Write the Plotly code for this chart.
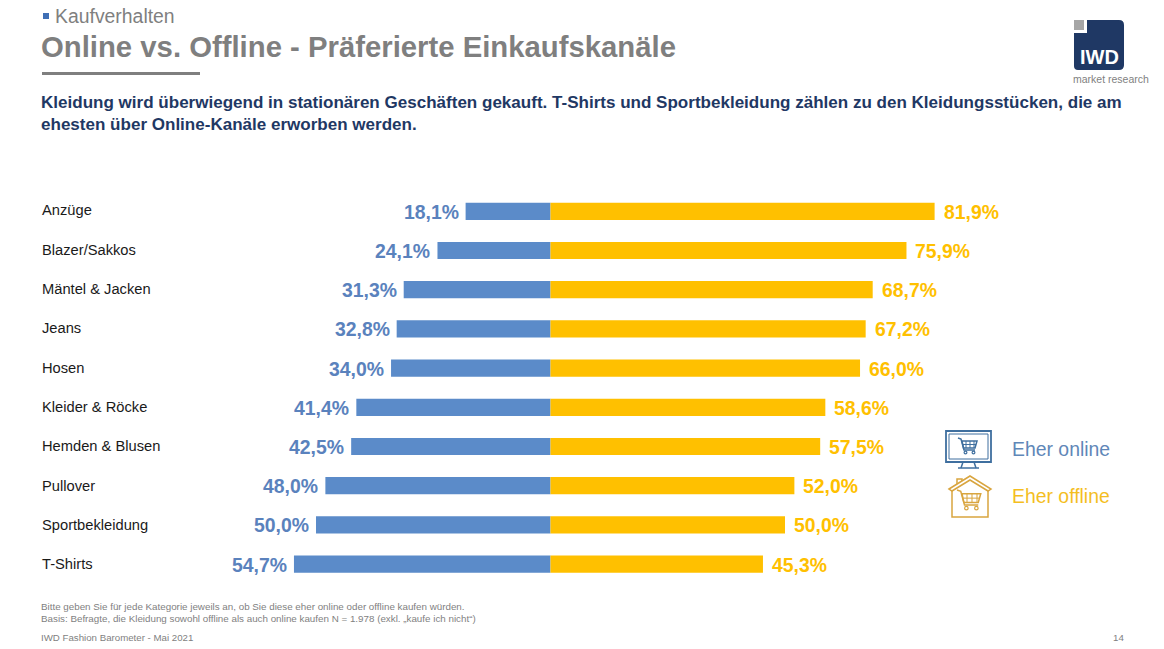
import plotly.graph_objects as go

W, H = 1164, 649

categories = ["Anzüge", "Blazer/Sakkos", "Mäntel & Jacken", "Jeans", "Hosen",
              "Kleider & Röcke", "Hemden & Blusen", "Pullover", "Sportbekleidung", "T-Shirts"]
online = [18.1, 24.1, 31.3, 32.8, 34.0, 41.4, 42.5, 48.0, 50.0, 54.7]
offline = [81.9, 75.9, 68.7, 67.2, 66.0, 58.6, 57.5, 52.0, 50.0, 45.3]

FONT = "Liberation Sans"
BLUE = "#5B8BC9"
BLUE_TEXT = "#5A82BD"
YELLOW = "#FFC000"
GREY = "#7F7F7F"
NAVY = "#1F3864"
ICON_BLUE = "#3F6F9F"
ICON_YELLOW = "#D9A53F"


def de(v):
    return f"{v:.1f}".replace(".", ",") + "%"


def px(x):
    return x / W


def py(y):
    return 1 - y / H


def text(x, y, s, size, color, bold=False, anchor="left"):
    if bold:
        s = f"<b>{s}</b>"
    # annotations carry about 2 px of padding
    x = x - 2 if anchor == "left" else x + 2 if anchor == "right" else x
    return dict(x=px(x), y=py(y), xref="paper", yref="paper", text=s, showarrow=False,
                xanchor=anchor, yanchor="middle", font=dict(family=FONT, size=size, color=color))


def bar_label(v, cat, side, color):
    # value label next to the bar end
    return dict(x=v * side, y=cat, xref="x", yref="y", text=f"<b>{de(v)}</b>", showarrow=False,
                xanchor="left" if side > 0 else "right", yanchor="middle",
                xshift=7 if side > 0 else -5, yshift=-0.5,
                font=dict(family=FONT, size=19.4, color=color))


def rect(x0, y0, x1, y1, fill=None, line=None, width=1.5):
    return dict(type="rect", xref="paper", yref="paper", x0=px(x0), y0=py(y0), x1=px(x1), y1=py(y1),
                fillcolor=fill or "rgba(0,0,0,0)", line=dict(color=line or "rgba(0,0,0,0)", width=width if line else 0),
                layer="above")


def poly(points, color, width=1.5, closed=False, fill=None):
    d = "M " + " L ".join(f"{px(x):.5f},{py(y):.5f}" for x, y in points)
    if closed:
        d += " Z"
    return dict(type="path", xref="paper", yref="paper", path=d, layer="above",
                fillcolor=fill or "rgba(0,0,0,0)", line=dict(color=color, width=width))


def dot(x, y, r, color):
    return dict(type="circle", xref="paper", yref="paper", x0=px(x - r), y0=py(y - r), x1=px(x + r), y1=py(y + r),
                line=dict(color=color, width=1.2), layer="above")


def cart(x, y, s, color):
    # small shopping cart, x/y = top left of the handle
    parts = [poly([(x, y), (x + 3 * s, y + 1 * s), (x + 6 * s, y + 12 * s), (x + 17 * s, y + 12 * s)], color, 1.5),
             poly([(x + 4 * s, y + 3 * s), (x + 19 * s, y + 3 * s), (x + 17 * s, y + 10 * s), (x + 5.5 * s, y + 10 * s)], color, 1.5, True)]
    for i in (8, 12, 16):
        parts.append(poly([(x + i * s, y + 3 * s), (x + i * s, y + 10 * s)], color, 1))
    parts.append(poly([(x + 5 * s, y + 6.5 * s), (x + 18 * s, y + 6.5 * s)], color, 1))
    parts.append(dot(x + 7.5 * s, y + 14.5 * s, 1.4 * s, color))
    parts.append(dot(x + 15.5 * s, y + 14.5 * s, 1.4 * s, color))
    return parts


fig = go.Figure()
fig.add_trace(go.Bar(y=categories, x=[-v for v in online], orientation="h", marker=dict(color=BLUE, line_width=0),
                     name="Eher online"))
fig.add_trace(go.Bar(y=categories, x=offline, orientation="h", marker=dict(color=YELLOW, line_width=0),
                     name="Eher offline"))

# 4.69 px per percent point, zero line at x=550.5; rows 39.2 px apart starting at y=211.3
scale = 4.69
zero = 550.5
row = 39.2
fig.update_xaxes(range=[-zero / scale, (W - zero) / scale], visible=False)
fig.update_yaxes(range=[(H - 211.3) / row, -211.3 / row], visible=False, type="category")

annotations = [
    text(55, 16, "Kaufverhalten", 19.4, GREY),
    text(41, 46, "Online vs. Offline - Präferierte Einkaufskanäle", 29.3, GREY, True),
    text(41, 103, "Kleidung wird überwiegend in stationären Geschäften gekauft. T-Shirts und Sportbekleidung zählen zu den Kleidungsstücken, die am", 17.05, NAVY, True),
    text(41, 124, "ehesten über Online-Kanäle erworben werden.", 17.05, NAVY, True),
    text(41, 606, "Bitte geben Sie für jede Kategorie jeweils an, ob Sie diese eher online oder offline kaufen würden.", 9.8, GREY),
    text(41, 618, "Basis: Befragte, die Kleidung sowohl offline als auch online kaufen N = 1.978 (exkl. „kaufe ich nicht“)", 9.8, GREY),
    text(41, 637, "IWD Fashion Barometer - Mai 2021", 9.7, GREY),
    text(1124, 637, "14", 9.7, GREY, anchor="right"),
    text(1012, 449, "Eher online", 19.4, "#5F87B8"),
    text(1012, 496, "Eher offline", 19.4, "#F4BE1F"),
    text(1099, 57, "IWD", 20, "white", True, "center"),
    text(1073, 79, "market research", 10.5, GREY),
]
for i, c in enumerate(categories):
    annotations.append(text(42, 210.5 + i * 39.3, c, 14.7, "#1A1A1A"))
    annotations.append(bar_label(online[i], c, -1, BLUE_TEXT))
    annotations.append(bar_label(offline[i], c, 1, YELLOW))

shapes = [
    rect(43, 13, 49, 19, fill="#3F6FB5"),
    rect(42, 72, 200, 75, fill=GREY),
    # logo
    dict(type="path", xref="paper", yref="paper", layer="above", fillcolor=NAVY, line_width=0,
         path=" ".join([f"M {px(1087):.5f},{py(20):.5f}", f"L {px(1119):.5f},{py(20):.5f}",
                        f"Q {px(1124):.5f},{py(20):.5f} {px(1124):.5f},{py(25):.5f}",
                        f"L {px(1124):.5f},{py(65):.5f}", f"Q {px(1124):.5f},{py(70):.5f} {px(1119):.5f},{py(70):.5f}",
                        f"L {px(1078):.5f},{py(70):.5f}", f"Q {px(1074):.5f},{py(70):.5f} {px(1074):.5f},{py(66):.5f}",
                        f"L {px(1074):.5f},{py(33):.5f}", f"L {px(1087):.5f},{py(33):.5f} Z"])),
    rect(1074, 20, 1084, 30, fill="#A6A6A6"),
    # monitor icon
    rect(946, 431, 991, 462, line=ICON_BLUE, width=1.8),
    rect(949, 434, 988, 459, line=ICON_BLUE, width=1),
    poly([(963, 462), (961, 468)], ICON_BLUE),
    poly([(974, 462), (976, 468)], ICON_BLUE),
    poly([(958, 468), (979, 468)], ICON_BLUE),
    # house icon
    poly([(949, 489), (970, 476), (991, 489), (988, 491), (970, 480), (952, 491)], ICON_YELLOW, closed=True),
    poly([(952, 491), (952, 517), (988, 517), (988, 491)], ICON_YELLOW),
    poly([(957, 484), (957, 479), (962, 479), (962, 481)], ICON_YELLOW),
]
shapes += cart(958, 438, 1.0, ICON_BLUE)
shapes += cart(957, 490, 1.25, ICON_YELLOW)

fig.update_layout(width=W, height=H, margin=dict(l=0, r=0, t=0, b=0), autosize=False,
                  barmode="relative", bargap=0.56, showlegend=False,
                  paper_bgcolor="white", plot_bgcolor="white",
                  annotations=annotations, shapes=shapes)

# the page's default body margin would push the chart 8 px off
fig.write_html("out.html", config={"displayModeBar": False}, post_script="document.body.style.margin='0';")
